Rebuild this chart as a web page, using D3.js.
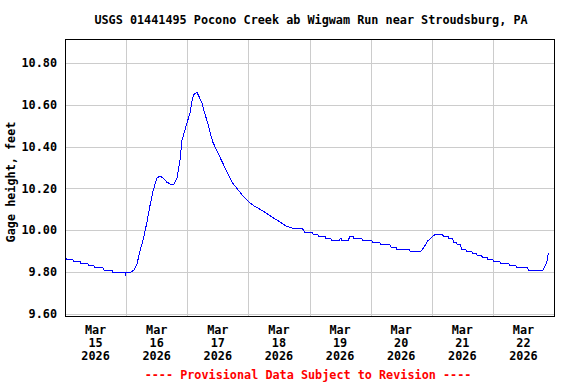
<!DOCTYPE html>
<html>
<head>
<meta charset="utf-8">
<script src="https://cdn.jsdelivr.net/npm/d3@7"></script>
<style>
  body { margin: 0; background: #fff; }
  text { font-family: "DejaVu Sans Mono", monospace; font-weight: bold; font-size: 11.8px; }
</style>
</head>
<body>
<div id="chart"></div>
<script>
const title = 'USGS 01441495 Pocono Creek ab Wigwam Run near Stroudsburg, PA'
    , yLabel = 'Gage height, feet'
    , footer = '---- Provisional Data Subject to Revision ----'
    ;

// hours since Mar 15 2026 00:00, gage height in feet
const hours = [0, 0.8, 3.1, 3.5, 5.9, 6.3, 9.0, 9.4, 11.4, 11.8, 14.9, 15.3, 18.5, 18.8,
  23.6, 23.8, 24.1, 25.9, 27.1, 28.3, 29.4, 30.6, 32.2, 33.4, 34.6, 36.1, 37.3, 38.5,
  40.0, 41.6, 42.8, 44.0, 45.2, 45.9, 47.1, 48.3, 49.1, 49.9, 50.6, 51.8, 52.6, 53.8,
  54.6, 56.1, 56.9, 58.1, 59.7, 61.6, 63.6, 65.6, 67.5, 69.5, 71.8, 73.8, 76.6, 79.3,
  81.7, 84.4, 86.8, 89.5, 93.1, 94.2, 97.0, 97.4, 99.3, 99.7, 102.1, 102.5, 104.4, 104.8,
  107.6, 108.0, 108.5, 108.8, 111.3, 111.7, 113.1, 113.5, 116.6, 117.0, 120.5, 120.9,
  123.7, 124.1, 127.6, 128.0, 130.0, 130.3, 135.1, 135.5, 139.8, 141.0, 142.5, 144.3,
  145.3, 148.2, 148.6, 150.4, 150.8, 152.2, 152.6, 153.7, 154.1, 155.3, 155.7, 157.3,
  157.6, 159.6, 160.0, 161.4, 161.8, 163.5, 163.9, 165.7, 166.1, 168.0, 168.4, 170.8,
  171.2, 174.3, 174.7, 177.1, 177.5, 181.6, 182.0, 187.7, 188.5, 189.2, 189.8];

const stage = [9.87, 9.86, 9.86, 9.85, 9.85, 9.84, 9.84, 9.83, 9.83, 9.82, 9.82, 9.81, 9.81, 9.80,
  9.80, 9.79, 9.80, 9.80, 9.81, 9.84, 9.90, 9.95, 10.04, 10.12, 10.19, 10.25, 10.26, 10.25,
  10.23, 10.22, 10.22, 10.25, 10.34, 10.43, 10.48, 10.53, 10.56, 10.62, 10.65, 10.66, 10.64, 10.61,
  10.57, 10.51, 10.47, 10.42, 10.38, 10.33, 10.28, 10.23, 10.20, 10.17, 10.14, 10.12, 10.10, 10.08,
  10.06, 10.04, 10.02, 10.01, 10.01, 9.99, 9.99, 9.98, 9.98, 9.97, 9.97, 9.96, 9.96, 9.95,
  9.95, 9.96, 9.96, 9.95, 9.95, 9.97, 9.97, 9.96, 9.96, 9.95, 9.95, 9.94,
  9.94, 9.93, 9.93, 9.92, 9.92, 9.91, 9.91, 9.90, 9.90, 9.92, 9.95, 9.97,
  9.98, 9.98, 9.97, 9.97, 9.96, 9.96, 9.94, 9.94, 9.93, 9.93, 9.91, 9.91,
  9.90, 9.90, 9.89, 9.89, 9.88, 9.88, 9.87, 9.87, 9.86, 9.86, 9.85, 9.85,
  9.84, 9.84, 9.83, 9.83, 9.82, 9.82, 9.81, 9.81, 9.83, 9.85, 9.89];

const yTicks = [9.60, 9.80, 10.00, 10.20, 10.40, 10.60, 10.80];
const days = [15, 16, 17, 18, 19, 20, 21, 22];

const width = 576
    , height = 384
    , plotLeft = 65
    , plotRight = 554
    , plotTop = 39
    , plotBottom = 316
    , gridColor = '#cccccc'
    , lineColor = '#0000ff'
    ;

const t0 = Date.UTC(2026, 2, 15);
const data = hours.map((h, i) => ({ t: new Date(t0 + h * 3600e3), v: stage[i] }));

const x = d3.scaleUtc()
  .domain([new Date(t0), new Date(Date.UTC(2026, 2, 23))])
  .range([plotLeft, plotRight]);

const y = d3.scaleLinear()
  .domain([9.59, 10.915])
  .range([plotBottom, plotTop]);

const svg = d3.select('#chart')
  .append('svg')
  .attr('width', width)
  .attr('height', height)
  .style('display', 'block')
  .style('background', '#fff');

// grid
const midnights = d3.utcDay.range(new Date(Date.UTC(2026, 2, 16)), new Date(Date.UTC(2026, 2, 23)));
svg.append('g')
  .attr('stroke', gridColor)
  .attr('shape-rendering', 'crispEdges')
  .call(g => g.selectAll('line.v')
    .data(midnights)
    .join('line')
      .attr('class', 'v')
      .attr('x1', d => Math.round(x(d)) + 0.5)
      .attr('x2', d => Math.round(x(d)) + 0.5)
      .attr('y1', plotTop)
      .attr('y2', plotBottom))
  .call(g => g.selectAll('line.h')
    .data(yTicks)
    .join('line')
      .attr('class', 'h')
      .attr('x1', plotLeft)
      .attr('x2', plotRight)
      .attr('y1', d => Math.round(y(d)) + 0.5)
      .attr('y2', d => Math.round(y(d)) + 0.5));

// data line
const line = d3.line()
  .x(d => x(d.t))
  .y(d => y(d.v));

svg.append('path')
  .datum(data)
  .attr('fill', 'none')
  .attr('stroke', lineColor)
  .attr('stroke-width', 1)
  .attr('shape-rendering', 'crispEdges')
  .attr('d', line);

// frame
svg.append('rect')
  .attr('x', plotLeft + 0.5)
  .attr('y', plotTop + 0.5)
  .attr('width', plotRight - plotLeft)
  .attr('height', plotBottom - plotTop)
  .attr('fill', 'none')
  .attr('stroke', '#000')
  .attr('stroke-width', 1.5)
  .attr('shape-rendering', 'crispEdges');

// y tick labels
svg.append('g')
  .attr('text-anchor', 'end')
  .selectAll('text')
  .data(yTicks)
  .join('text')
    .attr('x', 57)
    .attr('y', d => y(d))
    .attr('dy', '0.35em')
    .text(d => d3.format('.2f')(d));

// x tick labels at noon
const xl = svg.append('g')
  .attr('text-anchor', 'middle')
  .selectAll('g')
  .data(days)
  .join('g')
    .attr('transform', d => `translate(${x(new Date(Date.UTC(2026, 2, d, 12)))},0)`);
xl.append('text').attr('y', 334).text('Mar');
xl.append('text').attr('y', 347).text(d => d);
xl.append('text').attr('y', 360).text('2026');

// titles
svg.append('text')
  .attr('x', 311)
  .attr('y', 24)
  .attr('text-anchor', 'middle')
  .text(title);

svg.append('text')
  .attr('transform', 'translate(15,182) rotate(-90)')
  .attr('text-anchor', 'middle')
  .text(yLabel);

svg.append('text')
  .attr('x', 308)
  .attr('y', 379)
  .attr('text-anchor', 'middle')
  .attr('fill', '#ff0000')
  .text(footer);
</script>
</body>
</html>
